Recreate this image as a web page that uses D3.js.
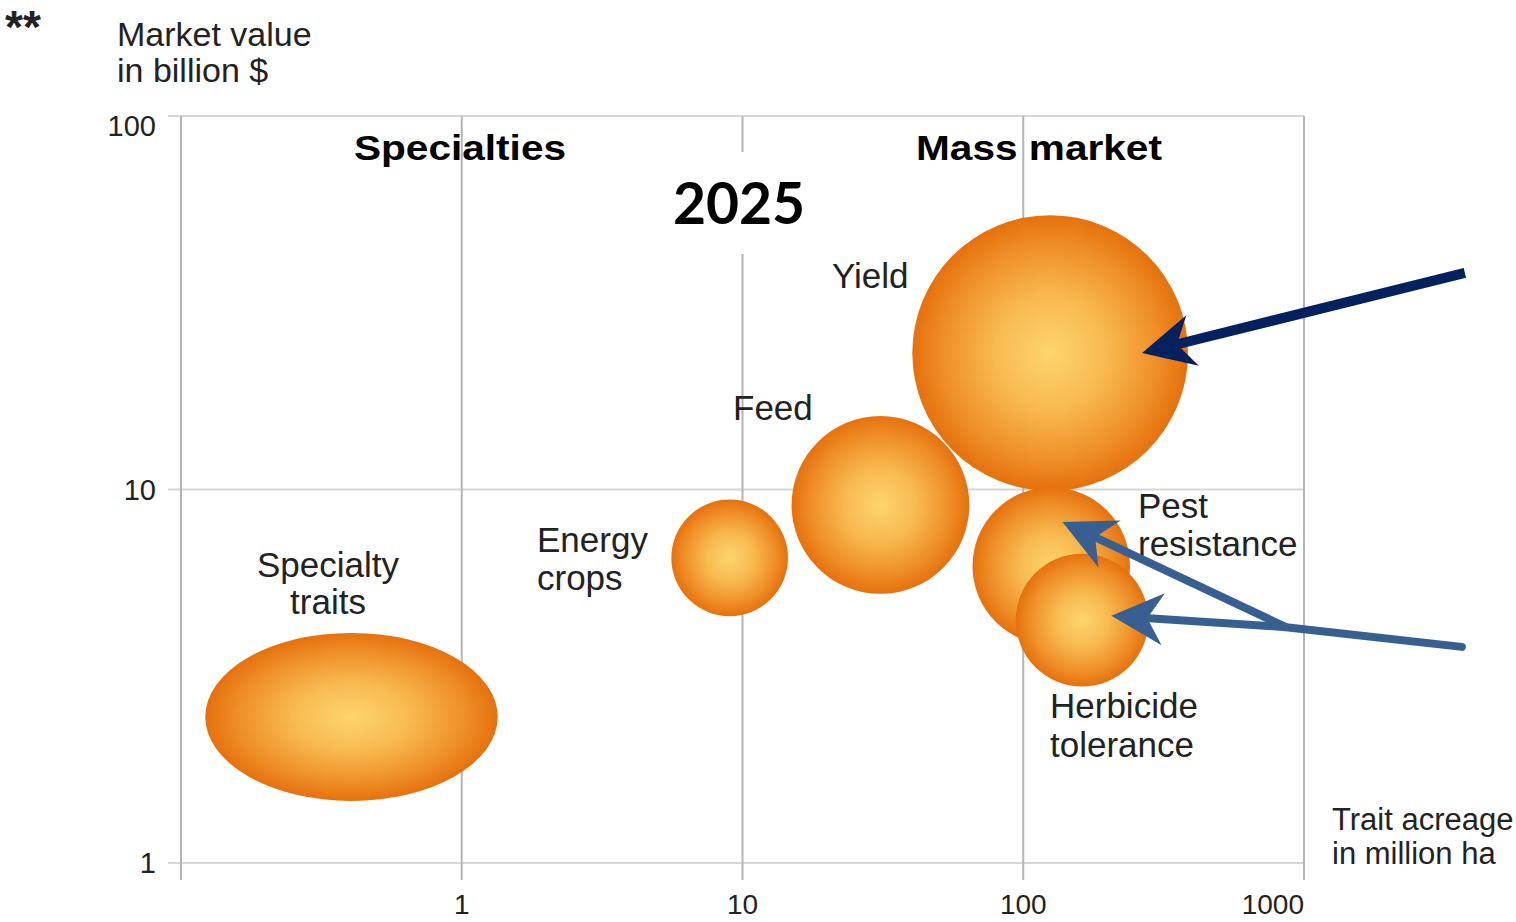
<!DOCTYPE html>
<html>
<head>
<meta charset="utf-8">
<script src="https://cdn.jsdelivr.net/npm/d3@7"></script>
<style>
  html, body { margin: 0; padding: 0; background: #fff; }
  svg { display: block; }
  text { font-family: "Liberation Sans", Arial, sans-serif; fill: #222; }
</style>
</head>
<body>
<svg id="chart" width="1516" height="922"></svg>
<script>
// Trait segments drawn as round bubbles: acreage (million ha), market value (billion $), bubble size
const traits      = ["Energy crops", "Feed", "Yield", "Pest resistance", "Herbicide tolerance"];
const traitAcres  = [9.0, 31.0, 124.7, 125.8, 162];
const traitValue  = [6.56, 9.09, 23.2, 6.24, 4.47];
const traitSize   = [34, 79, 190, 62, 44];

// Specialty traits cover a range on both axes (drawn as an ellipse)
const specialtyAcres = [0.122, 1.343];
const specialtyValue = [1.466, 4.13];

// Axis ticks
const xTicks = [1, 10, 100, 1000];
const xTickLabels = ["1", "10", "100", "1000"];
const xGrid = [0.1, 1, 10, 100, 1000];
const yTicks = [1, 10, 100];
const yTickLabels = ["1", "10", "100"];

// Arrow annotations, in data units [acreage, value]
const navyArrow = { from: [3741, 38.0], to: [265, 23.2] };
const blueStart = [3650, 3.79];
const blueJoint = [863, 4.28];
const blueTips  = [[138, 8.19], [206, 4.59]];

const svg = d3.select("#chart");

const x = d3.scaleLog().domain([0.1, 1000]).range([181, 1304]);
const y = d3.scaleLog().domain([1, 100]).range([863, 116]);
const r = d3.scaleSqrt().domain([0, 100]).range([0, 100]);

// Orange ball gradient
const defs = svg.append("defs");
const grad = defs.append("radialGradient").attr("id", "ball")
  .attr("cx", "50%").attr("cy", "50%").attr("r", "50%");
grad.append("stop").attr("offset", "0%").attr("stop-color", "#fdd46d");
grad.append("stop").attr("offset", "40%").attr("stop-color", "#f8ba51");
grad.append("stop").attr("offset", "78%").attr("stop-color", "#ef8e27");
grad.append("stop").attr("offset", "100%").attr("stop-color", "#e5710d");

// Grid
const grid = svg.append("g");
grid.selectAll("line.h").data(yTicks).join("line")
  .attr("x1", x.range()[0] - 13).attr("x2", x.range()[1])
  .attr("y1", d => y(d)).attr("y2", d => y(d))
  .attr("stroke", "#d6d6d6").attr("stroke-width", 2);
grid.selectAll("line.v").data(xGrid).join("line")
  .attr("x1", d => x(d)).attr("x2", d => x(d))
  .attr("y1", y.range()[1]).attr("y2", y.range()[0] + 17)
  .attr("stroke", "#b4b4b4").attr("stroke-width", 2);

// Tick labels
svg.selectAll("text.yt").data(yTicks).join("text")
  .attr("x", 156)
  .attr("y", d => Math.max(y(d), y.range()[1] + 10))
  .attr("dy", "0.36em")
  .attr("text-anchor", "end")
  .attr("font-size", 29)
  .text((d, i) => yTickLabels[i]);
svg.selectAll("text.xt").data(xTicks).join("text")
  .attr("x", d => x(d))
  .attr("y", 914)
  .attr("text-anchor", (d, i) => i === xTicks.length - 1 ? "end" : "middle")
  .attr("font-size", 28)
  .text((d, i) => xTickLabels[i]);

// Multi-line text helper
function lines(px, py, rows, opts) {
  const t = svg.append("text")
    .attr("transform", `translate(${px},${py}) scale(${opts.sx || 1},1)`)
    .attr("font-size", opts.size)
    .attr("font-weight", opts.weight || "normal")
    .attr("text-anchor", opts.anchor || "start");
  if (opts.family) t.style("font-family", opts.family);
  if (opts.fill) t.style("fill", opts.fill);
  rows.forEach((s, i) => t.append("tspan").attr("x", 0).attr("y", i * (opts.lh || 0)).text(s));
  return t;
}

// Axis titles
lines(117, 46, ["Market value", "in billion $"], { size: 34, lh: 36 });
lines(1332, 830, ["Trait acreage", "in million ha"], { size: 31, lh: 34 });
lines(5, 43, ["**"], { size: 46, weight: "bold" });

// Region headings
lines(460, 160, ["Specialties"], { size: 35, weight: "bold", anchor: "middle", sx: 1.16, fill: "#000" });
lines(1039, 160, ["Mass market"], { size: 35, weight: "bold", anchor: "middle", sx: 1.16, fill: "#000" });

// Year with a white backing
svg.append("rect").attr("x", 668).attr("y", 152).attr("width", 142).attr("height", 102).attr("fill", "#fff");
lines(739, 224, ["2025"], { size: 57, weight: "bold", anchor: "middle", family: "Lato, 'Open Sans', sans-serif", fill: "#000" });

// Specialty ellipse
svg.append("ellipse")
  .attr("cx", (x(specialtyAcres[0]) + x(specialtyAcres[1])) / 2)
  .attr("cy", (y(specialtyValue[0]) + y(specialtyValue[1])) / 2)
  .attr("rx", (x(specialtyAcres[1]) - x(specialtyAcres[0])) / 2)
  .attr("ry", (y(specialtyValue[0]) - y(specialtyValue[1])) / 2)
  .attr("fill", "url(#ball)");

// Trait bubbles
svg.selectAll("circle.trait").data(traits).join("circle")
  .attr("class", "trait")
  .attr("cx", (d, i) => x(traitAcres[i]))
  .attr("cy", (d, i) => y(traitValue[i]))
  .attr("r", (d, i) => r(traitSize[i]))
  .attr("fill", "url(#ball)");

// Bubble labels
lines(328, 577, ["Specialty", "traits"], { size: 35, lh: 37, anchor: "middle" });
lines(537, 552, ["Energy", "crops"], { size: 35, lh: 38 });
lines(733, 420, ["Feed"], { size: 35 });
lines(832, 288, ["Yield"], { size: 35 });
lines(1138, 518, ["Pest", "resistance"], { size: 35, lh: 38 });
lines(1050, 718, ["Herbicide", "tolerance"], { size: 35, lh: 39 });

// Arrows
function arrowHead(tip, from, color) {
  const dx = from[0] - tip[0], dy = from[1] - tip[1];
  const len = Math.hypot(dx, dy);
  const ux = dx / len, uy = dy / len, nx = -uy, ny = ux;
  const L = 52, W = 26, N = 36;
  const pts = [
    [tip[0], tip[1]],
    [tip[0] + ux * L + nx * W, tip[1] + uy * L + ny * W],
    [tip[0] + ux * N, tip[1] + uy * N],
    [tip[0] + ux * L - nx * W, tip[1] + uy * L - ny * W]
  ];
  svg.append("path").attr("d", "M" + pts.join("L") + "Z").attr("fill", color);
  return [tip[0] + ux * (N - 6), tip[1] + uy * (N - 6)];
}
const P = d => [x(d[0]), y(d[1])];

const navy = "#03215f";
{
  const a = P(navyArrow.from), b = P(navyArrow.to);
  const end = arrowHead(b, a, navy);
  svg.append("line").attr("x1", a[0]).attr("y1", a[1]).attr("x2", end[0]).attr("y2", end[1])
    .attr("stroke", navy).attr("stroke-width", 10);
}

const blue = "#375f91";
{
  const s = P(blueStart), j = P(blueJoint);
  blueTips.forEach(t => {
    const tp = P(t);
    const end = arrowHead(tp, j, blue);
    svg.append("line").attr("x1", j[0]).attr("y1", j[1]).attr("x2", end[0]).attr("y2", end[1])
      .attr("stroke", blue).attr("stroke-width", 8);
  });
  svg.append("line").attr("x1", s[0]).attr("y1", s[1]).attr("x2", j[0]).attr("y2", j[1])
    .attr("stroke", blue).attr("stroke-width", 8).attr("stroke-linecap", "round");
}
</script>
</body>
</html>
